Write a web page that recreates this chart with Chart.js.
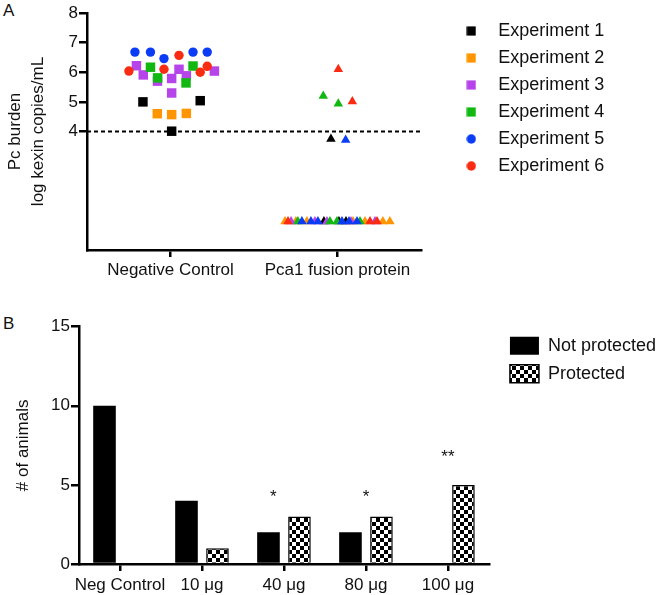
<!DOCTYPE html>
<html>
<head>
<meta charset="utf-8">
<script src="https://cdn.jsdelivr.net/npm/chart.js@4.4.0/dist/chart.umd.min.js"></script>
<style>
  html, body { margin: 0; padding: 0; background: #fff; overflow: hidden; }
  body { width: 666px; height: 595px; position: relative; font-family: "Liberation Sans", Arial, sans-serif; }
  .wrap { position: absolute; left: 0; width: 666px; }
  #wrapA { top: 0; height: 290px; }
  #wrapB { top: 310px; height: 285px; }
  .panel { position: absolute; left: 3px; font-size: 17px; color: #111; line-height: 20px; }
</style>
</head>
<body>
<div class="panel" style="top:1px">A</div>
<div class="panel" style="top:314px">B</div>
<div class="wrap" id="wrapA"><canvas id="chartA"></canvas></div>
<div class="wrap" id="wrapB"><canvas id="chartB"></canvas></div>
<script>
// ---- panel A data: [x position (jitter within group), log kexin copies/mL]
const groupLabels = ['Negative Control', 'Pca1 fusion protein'];
const groupTicks = [0.5, 1.5];
const yTicksA = [4, 5, 6, 7, 8];
const cutoffX = [0, 2];
const cutoffY = 4;

const expNames = ['Experiment 1', 'Experiment 2', 'Experiment 3', 'Experiment 4', 'Experiment 5', 'Experiment 6'];
const expColors = ['#000000', '#FF9500', '#B544EA', '#12B812', '#0B3CF5', '#F92B12'];
const expShapes = ['rect', 'rect', 'rect', 'rect', 'circle', 'circle'];

const exp1Neg = [[0.335, 5.00], [0.678, 5.04], [0.507, 4.01]];
const exp1Pca = [[1.461, 3.75], [1.419, 0.96], [1.509, 0.96], [1.551, 0.96]];
const exp2Neg = [[0.421, 4.60], [0.507, 4.57], [0.595, 4.61]];
const exp2Pca = [[1.186, 0.96], [1.251, 0.96], [1.317, 0.96], [1.593, 0.96], [1.665, 0.96], [1.772, 0.96], [1.814, 0.96]];
const exp3Neg = [[0.296, 6.22], [0.337, 5.91], [0.422, 5.70], [0.507, 5.79], [0.551, 6.10], [0.595, 5.88], [0.763, 6.04], [0.507, 5.30]];
const exp3Pca = [[1.222, 0.96], [1.365, 0.96], [1.437, 0.96], [1.581, 0.96], [1.725, 0.96]];
const exp4Neg = [[0.380, 6.17], [0.423, 5.81], [0.635, 6.21], [0.593, 5.64]];
const exp4Pca = [[1.415, 5.20], [1.505, 4.94], [1.263, 0.96], [1.455, 0.96], [1.497, 0.96], [1.635, 0.96]];
const exp5Neg = [[0.287, 6.68], [0.380, 6.68], [0.461, 6.46], [0.635, 6.68], [0.720, 6.68]];
const exp5Pca = [[1.549, 3.71], [1.287, 0.96], [1.341, 0.96], [1.383, 0.96], [1.527, 0.96], [1.569, 0.96], [1.617, 0.96]];
const exp6Neg = [[0.251, 6.04], [0.461, 6.10], [0.551, 6.57], [0.678, 6.00], [0.720, 6.20]];
const exp6Pca = [[1.505, 6.10], [1.589, 5.01], [1.204, 0.96], [1.695, 0.96], [1.737, 0.96]];

const expNeg = [exp1Neg, exp2Neg, exp3Neg, exp4Neg, exp5Neg, exp6Neg];
const expPca = [exp1Pca, exp2Pca, exp3Pca, exp4Pca, exp5Pca, exp6Pca];

// ---- panel B data
const doseLabels = ['Neg Control', '10 μg', '40 μg', '80 μg', '100 μg'];
const notProtected = [10, 4, 2, 2, 0];
const protectedCounts = [0, 1, 3, 3, 5];
const yTicksB = [0, 5, 10, 15];
const starText = ['*', '*', '**'];
const starX = [1.87, 3, 4];
const starY = [3.95, 3.95, 6.45];

Chart.defaults.font.family = '"Liberation Sans", Arial, sans-serif';
Chart.defaults.color = '#111';

const markerSize = { rect: 6.7, circle: 4.7, triangle: 5.5 };

// small legend icon, so the marker keeps its plot size while the text gap stays wide
function legendIcon(color, shape) {
    const c = document.createElement('canvas');
    c.width = 10; c.height = 10;
    const g = c.getContext('2d');
    g.fillStyle = color;
    if (shape === 'circle') {
        g.beginPath(); g.arc(5, 5, 4.7, 0, Math.PI * 2); g.fill();
    } else {
        g.fillRect(0.4, 0.4, 9.2, 9.2);
    }
    return c;
}

const datasetsA = expNames.map((name, i) => {
    const pts = expNeg[i].map(p => ({ x: p[0], y: p[1], g: 0 }))
        .concat(expPca[i].map(p => ({ x: p[0], y: p[1], g: 1 })));
    const shape = c => (c.raw && c.raw.g === 1) ? 'triangle' : expShapes[i];
    return {
        type: 'scatter',
        label: name,
        data: pts,
        order: 6 - i,
        backgroundColor: expColors[i],
        borderColor: expColors[i],
        pointBackgroundColor: expColors[i],
        pointBorderWidth: 0,
        borderWidth: 0,
        pointStyle: shape,
        pointRadius: c => markerSize[shape(c)],
        pointHoverRadius: c => markerSize[shape(c)]
    };
});

datasetsA.push({
    type: 'line',
    label: 'cutoff',
    data: cutoffX.map(x => ({ x: x, y: cutoffY })),
    borderColor: '#000',
    borderWidth: 2,
    borderDash: [4, 3],
    pointRadius: 0,
    fill: false,
    order: 10
});

const axisLine = { display: true, color: '#000', width: 2.5 };

new Chart(document.getElementById('chartA'), {
    type: 'scatter',
    data: { datasets: datasetsA },
    options: {
        responsive: true,
        maintainAspectRatio: false,
        animation: false,
        layout: { padding: { top: 13, right: 51.7, bottom: 0, left: 0 } },
        plugins: {
            tooltip: { enabled: false },
            legend: {
                position: 'right',
                align: 'start',
                maxWidth: 300,
                labels: {
                    usePointStyle: true,
                    pointStyleWidth: 36,
                    boxHeight: 9,
                    padding: 9,
                    color: '#111',
                    font: { size: 18 },
                    generateLabels: chart => Chart.defaults.plugins.legend.labels.generateLabels(chart)
                        .filter(it => it.datasetIndex < expNames.length)
                        .sort((a, b) => a.datasetIndex - b.datasetIndex)
                        .map(it => Object.assign(it, { pointStyle: legendIcon(expColors[it.datasetIndex], expShapes[it.datasetIndex]) }))
                }
            }
        },
        scales: {
            x: {
                type: 'linear',
                min: 0,
                max: 2,
                afterBuildTicks: s => { s.ticks = groupTicks.map(v => ({ value: v })); },
                afterFit: s => { s.height = 40; },
                ticks: { callback: v => groupLabels[Math.floor(v)], font: { size: 17 }, padding: 3, maxRotation: 0, autoSkip: false },
                grid: { display: true, drawOnChartArea: false, drawTicks: true, tickLength: 7, lineWidth: 2.5, color: '#000' },
                border: axisLine
            },
            y: {
                min: 0,
                max: 8,
                afterBuildTicks: s => { s.ticks = yTicksA.map(v => ({ value: v })); },
                afterFit: s => { s.width = 87; },
                ticks: { font: { size: 17 }, padding: 1 },
                grid: { display: true, drawOnChartArea: false, drawTicks: true, tickLength: 8, lineWidth: 2.5, color: '#000' },
                border: axisLine,
                title: { display: true, text: ['Pc burden', 'log kexin copies/mL'], font: { size: 17, lineHeight: 1.35 }, padding: { top: 3.5, bottom: 0 }, color: '#111' }
            },
            y2: {
                position: 'right',
                min: 0,
                max: 1,
                afterFit: s => { s.width = 23.3; },
                ticks: { display: false },
                grid: { display: false, drawTicks: false },
                border: { display: false }
            }
        }
    }
});

// ---- panel B
function checker() {
    const c = document.createElement('canvas');
    c.width = 8; c.height = 8;
    const g = c.getContext('2d');
    g.fillStyle = '#fff'; g.fillRect(0, 0, 8, 8);
    g.fillStyle = '#000'; g.fillRect(0, 0, 4, 4); g.fillRect(4, 4, 4, 4);
    return g.createPattern(c, 'repeat');
}

const starPlugin = {
    id: 'stars',
    afterDatasetsDraw(chart) {
        const { ctx, scales } = chart;
        ctx.save();
        ctx.font = '17px "Liberation Sans", Arial, sans-serif';
        ctx.textAlign = 'center';
        ctx.textBaseline = 'alphabetic';
        ctx.fillStyle = '#111';
        starText.forEach((t, i) => {
            ctx.fillText(t, scales.x.getPixelForValue(starX[i]), scales.y.getPixelForValue(starY[i]));
        });
        ctx.restore();
    }
};

new Chart(document.getElementById('chartB'), {
    type: 'bar',
    data: {
        labels: doseLabels,
        datasets: [
            { label: 'Not protected', data: notProtected, backgroundColor: '#000', borderColor: '#000', borderWidth: 0 },
            { label: 'Protected', data: protectedCounts, backgroundColor: checker(), borderColor: '#000', borderWidth: 1.5 }
        ]
    },
    options: {
        responsive: true,
        maintainAspectRatio: false,
        animation: false,
        layout: { padding: { top: 16.7, right: 0, bottom: 0, left: 0 } },
        datasets: { bar: { categoryPercentage: 0.756, barPercentage: 0.73 } },
        plugins: {
            tooltip: { enabled: false },
            legend: {
                position: 'right',
                align: 'start',
                maxWidth: 300,
                labels: { boxWidth: 29, boxHeight: 18, padding: 10, color: '#111', font: { size: 18 } }
            }
        },
        scales: {
            x: {
                afterFit: s => { s.height = 31; },
                ticks: { font: { size: 17 }, padding: 4, maxRotation: 0, autoSkip: false },
                grid: { display: true, drawOnChartArea: false, offset: false, drawTicks: true, tickLength: 7, lineWidth: 2.5, color: '#000' },
                border: axisLine
            },
            y: {
                min: 0,
                max: 15,
                afterBuildTicks: s => { s.ticks = yTicksB.map(v => ({ value: v })); },
                afterFit: s => { s.width = 79; },
                ticks: { font: { size: 17 }, padding: 1 },
                grid: { display: true, drawOnChartArea: false, drawTicks: true, tickLength: 8, lineWidth: 2.5, color: '#000' },
                border: axisLine,
                title: { display: true, text: '# of animals', font: { size: 17 }, padding: { top: 13, bottom: 0 }, color: '#111' }
            },
            y2: {
                position: 'right',
                min: 0,
                max: 1,
                afterFit: s => { s.width = 11; },
                ticks: { display: false },
                grid: { display: false, drawTicks: false },
                border: { display: false }
            }
        }
    },
    plugins: [starPlugin]
});
</script>
</body>
</html>
